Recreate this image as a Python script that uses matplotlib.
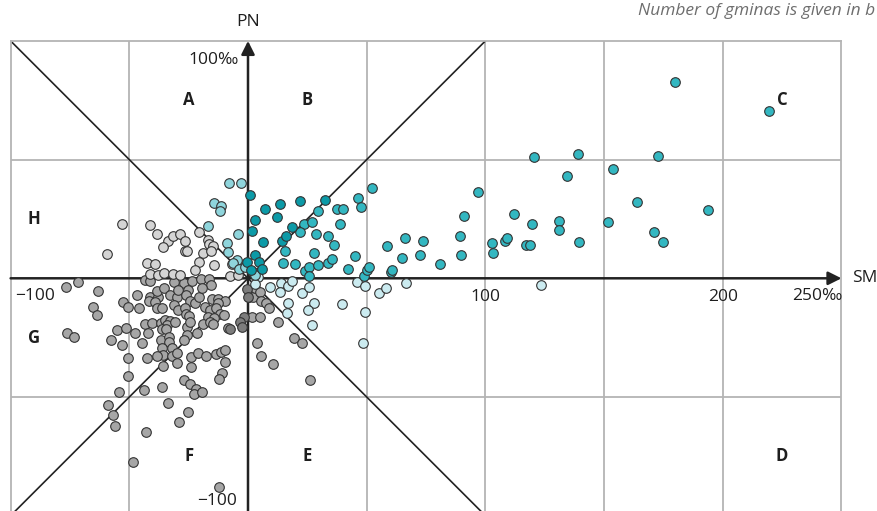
import matplotlib.pyplot as plt

plt.rcParams['font.family'] = ['Open Sans', 'DejaVu Sans']

# %% Data (SM, PN in per mille), grouped by point colour
sm_teal_dark = [1.0, 13.5, 7.0, 21.8, 32.4, 12.1, 3.1, 1.7, 6.3, 14.2, 15.9, 18.7,
                2.9, 4.8, 5.8, -0.3, 1.4]
pn_teal_dark = [35.1, 31.3, 29.2, 32.6, 33.0, 25.9, 24.6, 20.0, 15.4, 15.8, 17.7, 21.5,
                9.7, 6.9, 4.0, 6.9, 3.5]

sm_teal = [120.5, 139.0, 172.7, 134.4, 153.9, 97.0, 163.9, 193.8, 91.1, 112.2, 119.6,
           131.1, 131.1, 151.6, 171.0, 174.9, 139.6, 66.1, 73.7, 89.2, 102.8, 103.1,
           108.4, 109.0, 117.1, 118.8, 64.7, 72.6, 81.0, 89.7, 179.7, 219.5,
           52.2, 46.5, 47.6, 37.6, 40.0, 29.4, 23.5, 22.0, 27.0, 28.8, 33.8, 36.2,
           38.8, 15.7, 27.7, 14.7, 19.7, 24.1, 25.6, 25.7, 29.4, 33.8, 35.4, 42.2,
           45.2, 49.0, 50.0, 50.8, 58.4, 60.4, 60.7]
pn_teal = [51.2, 52.4, 51.5, 43.0, 45.9, 36.5, 32.0, 28.9, 26.2, 27.0, 23.0,
           24.3, 20.3, 23.7, 19.5, 15.3, 15.4, 16.8, 15.8, 17.9, 15.0, 10.5,
           15.8, 17.0, 13.9, 14.0, 8.4, 9.7, 6.1, 9.8, 82.7, 70.3,
           37.9, 33.7, 29.9, 29.2, 29.2, 28.5, 22.9, 19.5, 23.7, 18.7, 17.8, 14.0,
           22.7, 11.4, 10.8, 6.3, 6.1, 3.2, 4.6, 1.0, 5.5, 6.4, 8.3, 4.0,
           9.3, 1.0, 3.5, 4.9, 13.6, 2.7, 3.5]

sm_teal_light = [-7.9, -2.9, -14.2, -11.4, -11.7, -16.7, -4.1, -9.0, -8.6, -4.8,
                 -6.2, -3.7, -1.3, 2.8]
pn_teal_light = [40.0, 40.0, 31.6, 30.5, 28.5, 22.0, 18.5, 15.0, 11.0, 7.7,
                 6.3, 4.0, 4.9, 1.4]

sm_cyan_pale = [2.1, 4.3, 3.0, 9.3, 13.9, 17.0, 18.5, 13.6, 22.6, 25.8, 17.0, 27.8,
                25.4, 16.4, 27.1, 39.7, 45.8, 49.2, 49.2, 48.6, 55.1, 58.0, 66.6, 123.4]
pn_cyan_pale = [2.8, 0.7, -2.3, -3.8, -2.1, -3.1, -1.0, -5.6, -6.3, -3.8, -10.5, -10.5,
                -13.5, -14.6, -19.8, -11.0, -1.7, -3.1, -14.1, -27.4, -6.3, -4.0, -1.9, -2.7]

sm_grey_light = [-53.2, -59.3, -41.4, -38.3, -33.6, -31.6, -28.5, -26.5, -35.9, -26.5,
                 -25.6, -20.5, -17.0, -16.6, -14.9, -18.8, -15.7, -20.8, -14.3, -22.2,
                 -42.7, -39.0, -41.3, -38.0, -35.4, -31.5, -28.6, -7.5, -4.1, -6.9]
pn_grey_light = [22.9, 10.2, 22.5, 18.8, 15.8, 17.9, 18.8, 15.8, 13.2, 11.5,
                 11.5, 19.5, 16.1, 14.4, 13.6, 10.8, 11.5, 7.0, 5.5, 3.5,
                 6.3, 5.9, 1.8, 1.3, 2.1, 1.9, 1.3, 1.0, 1.4, 6.0]

sm_grey = [0.4, 2.0, 2.9, 5.1, 5.3, 7.5, 9.0, 1.6, 5.1, 12.5, 19.5, 22.7, 3.9, 5.5,
           10.4, 26.1,
           -63.0, -76.6, -71.4, -65.1, -63.7, -76.3, -73.4, -43.4, -41.3, -31.2, -26.8,
           -23.7, -19.8, -16.4, -15.6, -52.5, -50.4, -46.9, -45.8, -41.3, -37.8, -38.5,
           -35.4, -32.9, -29.8, -29.4, -25.1, -26.2, -24.4, -22.3, -20.6, -19.3, -18.1,
           -41.6, -39.2, -38.5, -36.4, -31.2, -29.4, -26.5, -26.1, -24.9, -15.3, -12.5,
           -9.7, -12.8, -16.0, -13.5, -11.8, -10.0, -16.7, -14.3, -18.8, -16.0, -14.9,
           -8.3, -43.4, -40.6, -36.8, -35.0, -32.9, -34.0, -30.8, -36.4, -34.5, -25.8,
           -24.4, -25.6, -21.4, -55.1, -51.4, -47.6, -42.0, -57.8, -53.0, -44.8, -36.7,
           -33.3, -33.3, -36.1, -31.9, -35.9, -38.5, -32.1, -29.8, -26.8, -50.4, -42.7,
           -35.9, -29.8, -24.0, -20.9, -17.8, -13.5, -11.5, -9.7, -24.1, -9.7, -50.4,
           -11.1, -12.1, -27.0, -24.4, -36.4, -43.8, -22.0, -22.6, -19.3, -54.3, -58.8,
           -56.7, -56.0, -33.8, -25.4, -28.9, -43.1, -48.6, -12.2]
pn_grey = [-8.0, -8.0, -4.0, -5.9, -9.6, -10.5, -12.6, -16.2, -16.2, -18.3, -25.0,
           -27.3, -27.4, -32.6, -36.2, -42.7,
           -5.3, -3.5, -1.7, -12.0, -15.5, -22.9, -24.7, -0.7, -1.1, -1.7, -2.1,
           -1.1, -0.3, -0.3, -2.8, -9.9, -12.2, -7.0, -12.6, -7.7, -7.7, -5.3,
           -4.0, -7.0, -7.7, -4.9, -4.9, -7.0, -9.6, -10.5, -7.7, -4.2, -12.0,
           -9.6, -9.9, -12.6, -12.4, -11.2, -13.4, -12.6, -15.2, -15.8, -8.7, -8.7,
           -9.6, -10.5, -13.4, -12.6, -15.2, -15.5, -16.2, -16.6, -19.4, -18.5, -19.4,
           -21.1, -19.4, -19.0, -19.0, -17.6, -18.0, -19.7, -18.5, -21.4, -21.4, -20.4,
           -18.3, -23.9, -23.2, -21.8, -20.8, -23.2, -23.2, -26.0, -28.1, -27.4, -26.0,
           -24.6, -26.7, -29.5, -29.5, -32.3, -32.7, -32.7, -31.6, -26.0, -33.7, -33.4,
           -36.8, -35.8, -33.0, -31.6, -32.7, -31.9, -31.2, -30.2, -37.2, -35.4, -41.0,
           -40.0, -42.5, -42.8, -44.5, -45.7, -47.0, -46.6, -48.7, -47.8, -48.0, -53.4,
           -57.6, -62.1, -52.7, -56.2, -60.4, -64.6, -77.5, -87.8]

sm_grey_dark = [-0.3, -1.7, -3.4, -2.7, -7.6, -0.1]
pn_grey_dark = [-4.5, -16.2, -18.3, -20.4, -21.4, -7.7]

groups = [
    (sm_grey, pn_grey, '#a6a6a6'),
    (sm_grey_dark, pn_grey_dark, '#7d7d7d'),
    (sm_grey_light, pn_grey_light, '#d4d4d4'),
    (sm_cyan_pale, pn_cyan_pale, '#cbebf0'),
    (sm_teal_light, pn_teal_light, '#8fd5dc'),
    (sm_teal, pn_teal, '#33b7c1'),
    (sm_teal_dark, pn_teal_dark, '#0c9aa7'),
]

sectors = ['A', 'B', 'C', 'D', 'E', 'F', 'G', 'H']
sector_x = [-25, 25, 225, 225, 25, -25, -90, -90]
sector_y = [75, 75, 75, -75, -75, -75, -25, 25]

# %% Plotting
fig = plt.figure(figsize=(8.77, 5.11), dpi=100)
ax = fig.add_axes([10.6/877, -4.7/511, 830.9/877, 474.8/511])
ax.set_xlim(-100, 250)
ax.set_ylim(-100, 100)
ax.set_xticks([])
ax.set_yticks([])
for sp in ax.spines.values():
    sp.set_color('#b4b4b4')
    sp.set_linewidth(1.3)

# Grid
for gx in [-50, 50, 100, 150, 200]:
    ax.axvline(gx, color='#b4b4b4', lw=1.3, zorder=1)
for gy in [-50, 50]:
    ax.axhline(gy, color='#b4b4b4', lw=1.3, zorder=1)

# Diagonals
ax.plot([-100, 100], [100, -100], color='#222222', lw=1.2, zorder=2)
ax.plot([-100, 100], [-100, 100], color='#222222', lw=1.2, zorder=2)

# Axes with arrows
arr = dict(arrowstyle='-|>', color='#222222', lw=1.8, mutation_scale=20,
           shrinkA=0, shrinkB=0)
ax.annotate('', xy=(250, 0), xytext=(-100, 0), arrowprops=arr, zorder=3,
            annotation_clip=False)
ax.annotate('', xy=(0, 100), xytext=(0, -100), arrowprops=arr, zorder=3,
            annotation_clip=False)

# Points
for sm, pn, col in groups:
    ax.scatter(sm, pn, s=48, c=col, edgecolors='#333333', linewidths=0.8, zorder=4)

# Axis labels and ticks
fs = 12.5
tc = '#1e1e1e'
ax.text(0, 108, 'PN', ha='center', va='center', fontsize=fs, color=tc, clip_on=False)
ax.text(-3.8, 92, '100‰', ha='right', va='center', fontsize=fs, color=tc)
ax.text(254.4, 0, 'SM', ha='left', va='center', fontsize=fs, color=tc, clip_on=False)
ax.text(-98.1, -7.5, '−100', ha='left', va='center', fontsize=fs, color=tc)
ax.text(100, -7.9, '100', ha='center', va='center', fontsize=fs, color=tc)
ax.text(200, -7.9, '200', ha='center', va='center', fontsize=fs, color=tc)
ax.text(250.4, -7.5, '250‰', ha='right', va='center', fontsize=fs, color=tc, clip_on=False)
ax.text(-4.6, -94.0, '−100', ha='right', va='center', fontsize=fs, color=tc)

for s, x, y in zip(sectors, sector_x, sector_y):
    ax.text(x, y, s, ha='center', va='center', fontsize=12, fontweight='bold',
            color=tc, zorder=5)

fig.text(875/877, 1 - 11/511, 'Number of gminas is given in b', ha='right',
         va='center', fontsize=fs, style='italic', color='#6e6e6e')

plt.savefig('out.png', dpi=100)
